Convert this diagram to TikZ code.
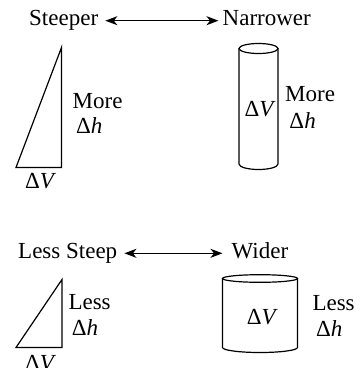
\documentclass[tikz,border=0pt]{standalone}
\usepackage{fontspec}
\setmainfont{Liberation Serif}
\usetikzlibrary{arrows.meta,positioning}

\begin{document}
\begin{tikzpicture}[
  x=1pt,y=-1pt,
  txt/.style={inner sep=0pt,anchor=base west,font=\fontsize{23}{26}\selectfont},
  word/.style={txt,anchor=west,text height=15pt,text depth=5pt},
  outline/.style={line width=1.2pt,line join=miter},
  dbl/.style={{Stealth[length=12pt,width=9pt,inset=3.5pt]}-{Stealth[length=12pt,width=9pt,inset=3.5pt]},line width=1.3pt}
]
\useasboundingbox (0,0) rectangle (364,368);
% top row: steeper <-> narrower
\node[word] (steeper) at (29,20.7) {Steeper};
\node[word] (narrower) at (222.5,20.7) {Narrower};
\draw[dbl,shorten <=7pt,shorten >=4pt] (steeper.east) -- (narrower.west);
% steep triangle
\draw[outline] (16,167.5) -- (61.5,167.5) -- (61.5,47.5) -- cycle;
\node[txt] (dv1) at (25,188) {Δ\textit{V}};
\node[txt] (more1) at (72.5,108.3) {More};
\node[txt] (dh1) at (76,133.3) {Δ\textit{h}};
% narrow cylinder
\draw[outline] (258.5,48.5) ellipse [x radius=19.5,y radius=5];
\draw[outline] (239,48.5) -- (239,164) arc [start angle=180,end angle=0,x radius=19.5,y radius=5.5] -- (278,48.5);
\node[txt] (dv2) at (244.3,116.7) {Δ\textit{V}};
\node[txt] (more2) at (285,101.7) {More};
\node[txt] (dh2) at (289.3,128.3) {Δ\textit{h}};
% bottom row: less steep <-> wider
\node[word] (lesssteep) at (18,253.3) {Less Steep};
\node[word] (wider) at (231.5,253.3) {Wider};
\draw[dbl,shorten <=7pt,shorten >=9pt] (lesssteep.east) -- (wider.west);
% shallow triangle
\draw[outline] (16,347.5) -- (62,347.5) -- (62,279.5) -- cycle;
\node[txt] (dv3) at (25,370) {Δ\textit{V}};
\node[txt] (less1) at (68.3,309.3) {Less};
\node[txt] (dh3) at (71.7,335.7) {Δ\textit{h}};
% wide cylinder
\draw[outline] (260,278.5) ellipse [x radius=37.5,y radius=3.8];
\draw[outline] (222.5,278.5) -- (222.5,347.5) arc [start angle=180,end angle=0,x radius=37.5,y radius=5] -- (297.5,278.5);
\node[txt] (dv4) at (246.7,324.3) {Δ\textit{V}};
\node[txt] (less2) at (312.3,310) {Less};
\node[txt] (dh4) at (316,336.7) {Δ\textit{h}};
\end{tikzpicture}
\end{document}
